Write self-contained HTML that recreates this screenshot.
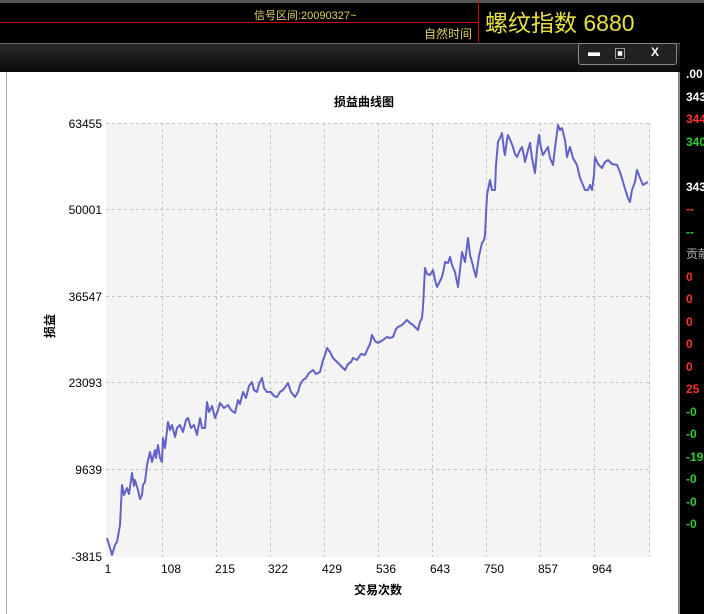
<!DOCTYPE html>
<html><head><meta charset="utf-8"><style>
body{margin:0;width:704px;height:614px;overflow:hidden;background:#000;font-family:"Liberation Sans","Noto Sans CJK SC",sans-serif;position:relative}
.a{position:absolute;white-space:nowrap}
</style></head><body>
<div class="a" style="left:0;top:0;width:704px;height:3px;background:#555"></div>
<div class="a" style="left:0;top:22px;width:478px;height:1px;background:#c00"></div>
<div class="a" style="left:478px;top:0;width:1px;height:42px;background:#c00"></div>
<div class="a" style="left:254px;top:7px;font-size:11px;color:#e0d060">信号区间:20090327~</div>
<div class="a" style="left:424px;top:25px;font-size:12px;color:#e0d060">自然时间</div>
<div class="a" style="left:485px;top:4px;font-size:23px;color:#e8e040">螺纹指数 6880</div>
<div class="a" style="left:0;top:43px;width:680px;height:29px;background:linear-gradient(#2a2a2a,#0a0a0a);border-top:1px solid #666"></div>
<div class="a" style="left:578px;top:43px;width:97px;height:20px;border:1px solid #888;border-radius:3px;background:#222;color:#fff;font-size:12px;font-weight:bold">
<span class="a" style="left:9px;top:1px">▬</span><span class="a" style="left:35px;top:1px">▣</span><span class="a" style="left:72px;top:1px">X</span></div>
<div class="a" style="left:0;top:72px;width:678px;height:542px;background:#fff;border-right:2px solid #888"></div>
<div class="a" style="left:6px;top:72px;width:1px;height:542px;background:#aaa"></div>
<div class="a" style="left:686px;top:63px;font-size:12px;line-height:22.5px;color:#fff;font-weight:bold">
<div>.00</div><div>343</div><div style="color:#f33">344</div><div style="color:#3c3">340</div><div>&nbsp;</div><div>343</div><div style="color:#f33">--</div><div style="color:#3c3">--</div><div style="color:#aaa;font-weight:normal">贡献</div>
<div style="color:#f33">0</div><div style="color:#f33">0</div><div style="color:#f33">0</div><div style="color:#f33">0</div><div style="color:#f33">0</div><div style="color:#f33">25</div><div style="color:#3c3">-0</div><div style="color:#3c3">-0</div><div style="color:#3c3">-19</div><div style="color:#3c3">-0</div><div style="color:#3c3">-0</div><div style="color:#3c3">-0</div></div>
<svg class="a" style="left:0;top:0" width="704" height="614">
<rect x="106" y="123" width="544" height="434" fill="#f4f4f4"/>
<g stroke="#c4c4c4" stroke-dasharray="3,3" stroke-width="1">
<line x1="106" y1="123.5" x2="650" y2="123.5"/><line x1="106" y1="209.5" x2="650" y2="209.5"/><line x1="106" y1="296.5" x2="650" y2="296.5"/><line x1="106" y1="382.5" x2="650" y2="382.5"/><line x1="106" y1="469.5" x2="650" y2="469.5"/>
<line x1="162.5" y1="123" x2="162.5" y2="557"/><line x1="216.5" y1="123" x2="216.5" y2="557"/><line x1="270.5" y1="123" x2="270.5" y2="557"/><line x1="324.5" y1="123" x2="324.5" y2="557"/><line x1="378.5" y1="123" x2="378.5" y2="557"/><line x1="432.5" y1="123" x2="432.5" y2="557"/><line x1="486.5" y1="123" x2="486.5" y2="557"/><line x1="540.5" y1="123" x2="540.5" y2="557"/><line x1="594.5" y1="123" x2="594.5" y2="557"/><line x1="649.5" y1="123" x2="649.5" y2="557"/>
</g>
<polyline fill="none" stroke="#6262c8" stroke-width="2" stroke-linejoin="round" points="107,538 110,548 112,555 115,545 117,542 120,525 121,505 122,485 124,495 127,488 129,494 132,473 134,486 135,480 138,490 140,499 142,495 143,485 145,482 147,465 150,452 152,462 155,450 156,458 158,445 160,458 162,462 163,438 165,448 168,422 170,430 172,425 175,437 177,428 180,425 183,432 186,420 188,418 191,428 194,425 197,435 200,418 202,428 205,428 207,402 209,412 212,406 215,418 218,410 220,403 224,408 228,405 231,410 235,413 238,400 240,404 243,392 246,398 249,386 252,382 254,390 257,392 259,384 262,378 264,388 267,392 271,392 274,396 277,397 280,392 283,390 286,386 288,383 291,392 295,397 298,392 300,385 303,380 306,378 309,373 313,370 316,374 320,372 323,360 325,355 327,348 330,352 333,358 337,362 341,366 345,370 348,364 351,362 353,358 357,360 361,354 365,355 368,348 370,344 372,335 375,341 378,343 383,340 387,337 390,338 393,337 396,329 398,327 402,325 407,320 410,323 413,325 416,328 418,330 420,322 422,318 423,307 425,268 427,274 430,275 433,270 435,280 437,287 440,281 442,277 444,268 445,262 448,263 450,257 452,265 455,272 458,287 460,270 462,252 465,262 468,238 470,255 472,262 474,270 476,277 479,256 482,243 484,240 485,235 487,195 490,180 492,190 495,190 496,165 498,142 500,138 502,133 504,150 505,155 507,140 508,135 511,142 513,147 515,154 517,157 520,150 522,147 524,156 525,162 528,150 530,143 532,158 535,173 537,150 539,135 541,148 543,155 546,150 548,147 550,158 553,165 555,148 558,125 560,130 562,128 565,140 567,157 569,150 570,147 573,158 577,165 580,178 583,185 585,190 588,190 590,185 592,190 594,175 595,157 598,164 602,168 605,162 608,160 612,164 617,165 620,172 623,182 626,192 628,198 630,202 632,190 635,182 637,170 640,178 643,185 646,183 648,182"/>
<g font-size="12" font-family="Liberation Sans,sans-serif" fill="#000" text-anchor="end">
<text x="102" y="128">63455</text><text x="102" y="214">50001</text><text x="102" y="301">36547</text><text x="102" y="387">23093</text><text x="102" y="474">9639</text><text x="102" y="561">-3815</text>
</g>
<g font-size="12" font-family="Liberation Sans,sans-serif" fill="#000" text-anchor="middle">
<text x="108" y="573">1</text><text x="171" y="573">108</text><text x="225" y="573">215</text><text x="278" y="573">322</text><text x="332" y="573">429</text><text x="386" y="573">536</text><text x="440" y="573">643</text><text x="494" y="573">750</text><text x="548" y="573">857</text><text x="602" y="573">964</text>
</g>
<text x="364" y="106" font-size="12" font-weight="bold" text-anchor="middle" font-family="Liberation Sans,Noto Sans CJK SC,sans-serif">损益曲线图</text>
<text x="378" y="594" font-size="12" font-weight="bold" text-anchor="middle" font-family="Liberation Sans,Noto Sans CJK SC,sans-serif">交易次数</text>
<text transform="translate(54,326) rotate(-90)" font-size="12" font-weight="bold" text-anchor="middle" font-family="Liberation Sans,Noto Sans CJK SC,sans-serif">损益</text>
</svg>
</body></html>
